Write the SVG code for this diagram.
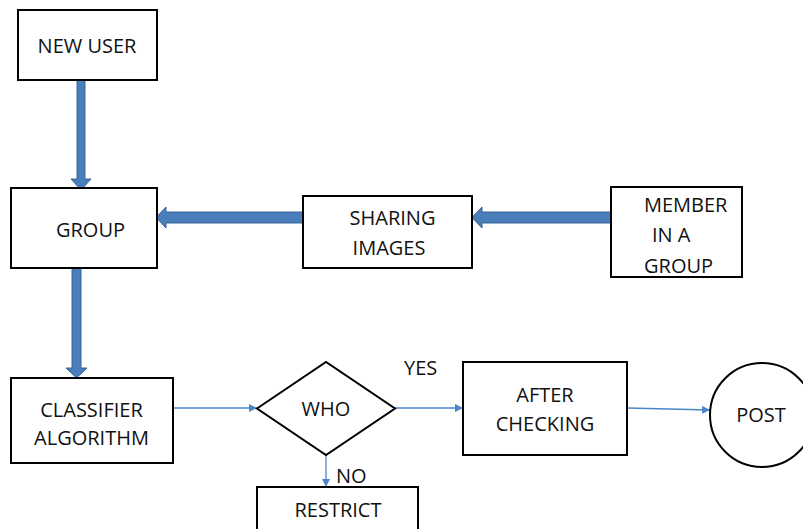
<svg xmlns="http://www.w3.org/2000/svg" width="803" height="529" viewBox="0 0 803 529">
<style>
.box{fill:#fff;stroke:#000;stroke-width:2}
.t{font-family:"Open Sans","Liberation Sans",sans-serif;font-size:20px;fill:#111}
.c{text-anchor:middle}
.thick{fill:#4a7ebb;stroke:#3a6597;stroke-width:1}
.thin{stroke:#4a86c8;stroke-width:1.3;fill:none;marker-end:url(#ah)}
</style>
<defs>
<marker id="ah" viewBox="0 0 10 10" refX="10" refY="5" markerWidth="8" markerHeight="8" markerUnits="userSpaceOnUse" orient="auto">
<path d="M0,0 L10,5 L0,10 z" fill="#4a86c8"/>
</marker>
</defs>
<g id="connectors">
<polygon class="thick" points="77,80 85,80 85,179 91,179 81,190 71,179 77,179"/>
<polygon class="thick" points="72,268 81,268 81,368 87,368 76.5,378 66,368 72,368"/>
<polygon class="thick" points="303,212 303,223 166,223 166,228 156,217.5 166,207 166,212"/>
<polygon class="thick" points="611,212 611,223 482,223 482,228 472,217.5 482,207 482,212"/>
<path class="thin" d="M173,408 L257,408"/>
<path class="thin" d="M395,408 L463,408"/>
<path class="thin" d="M627,408 L710,410"/>
<path class="thin" d="M326,455 L326,487"/>
</g>
<g id="new-user">
<rect class="box" x="18" y="10" width="139" height="70"/>
<text class="t c" x="87" y="53">NEW USER</text>
</g>
<g id="group">
<rect class="box" x="11" y="188" width="146" height="80"/>
<text class="t c" x="90.5" y="237">GROUP</text>
</g>
<g id="sharing-images">
<rect class="box" x="303" y="196" width="169" height="72"/>
<text class="t c" x="392.5" y="225">SHARING</text>
<text class="t c" x="389" y="255">IMAGES</text>
</g>
<g id="member">
<rect class="box" x="611" y="187" width="131" height="90"/>
<text class="t" x="644" y="212">MEMBER</text>
<text class="t" x="652" y="242">IN A</text>
<text class="t" x="644" y="273">GROUP</text>
</g>
<g id="classifier">
<rect class="box" x="11" y="378" width="162" height="85"/>
<text class="t c" x="91.5" y="417">CLASSIFIER</text>
<text class="t c" x="91.5" y="445">ALGORITHM</text>
</g>
<g id="who">
<polygon class="box" points="257,408.5 326,362 395,408.5 326,455"/>
<text class="t c" x="326" y="416">WHO</text>
</g>
<g id="yes-label"><text class="t" x="404" y="375">YES</text></g>
<g id="no-label"><text class="t" x="336" y="483">NO</text></g>
<g id="restrict">
<rect class="box" x="257" y="487" width="161" height="60"/>
<text class="t c" x="338" y="517">RESTRICT</text>
</g>
<g id="after-checking">
<rect class="box" x="463" y="362" width="164" height="93"/>
<text class="t c" x="545" y="402">AFTER</text>
<text class="t c" x="545" y="431">CHECKING</text>
</g>
<g id="post">
<circle class="box" cx="762" cy="415" r="52"/>
<text class="t c" x="761" y="422">POST</text>
</g>
</svg>
